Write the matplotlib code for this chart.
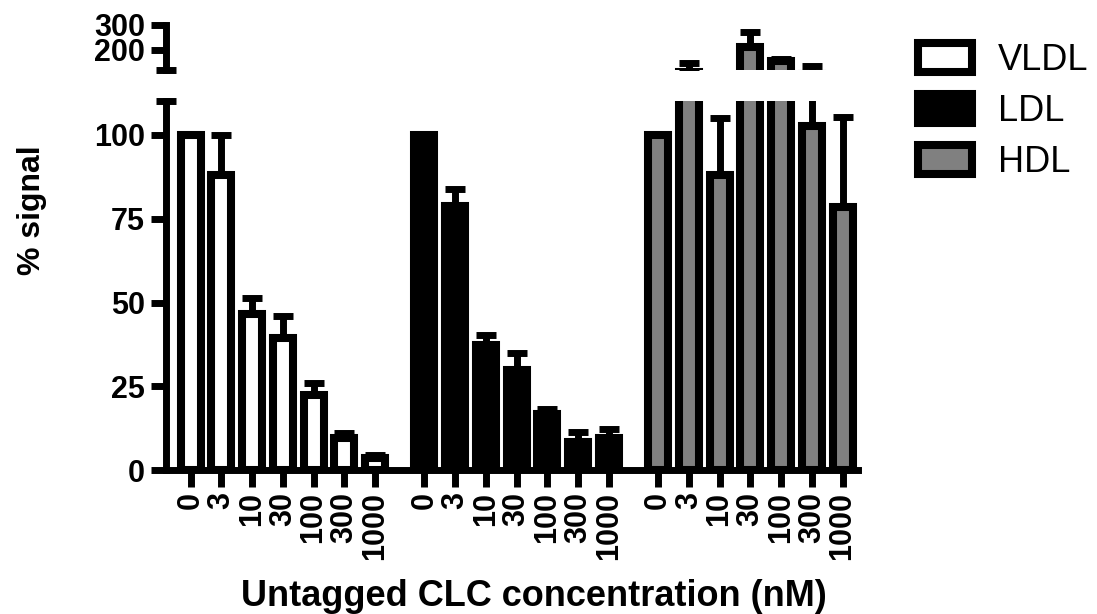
import numpy as np
import matplotlib
matplotlib.use('Agg')
import matplotlib.pyplot as plt

# values (% signal, mean and upper SEM)
conc_labels = ['0', '3', '10', '30', '100', '300', '1000']
vldl_mean = [100, 88, 46.5, 39.5, 22.5, 9.5, 3.5]
vldl_err = [0, 12, 4.8, 6.5, 3.5, 1.6, 0.9]
ldl_mean = [100, 78.7, 37.3, 30, 16.7, 8.4, 9.5]
ldl_err = [0, 5.3, 3.1, 4.9, 1.4, 2.8, 2.7]
hdl_mean = [100, 112, 88, 212, 156, 102.6, 78.4]
hdl_err = [0, 34, 17, 58, 6, 35, 27]

series = [
    ('VLDL', vldl_mean, vldl_err, 'white'),
    ('LDL', ldl_mean, ldl_err, 'black'),
    ('HDL', hdl_mean, hdl_err, '#808080'),
]

plt.rcParams['font.family'] = ['Liberation Sans', 'DejaVu Sans']

group_step = 7.6
bar_w = 0.65
edge_lw = 5.8

fig = plt.figure(figsize=(10.97, 6.14), dpi=100)
ax_lo = fig.add_axes([0.1513, 0.2345, 0.6308, 0.6002])
ax_hi = fig.add_axes([0.1513, 0.886, 0.6308, 0.0733])

n = len(conc_labels)
all_x = []
all_lab = []
handles = []
for g, (name, mean, err, color) in enumerate(series):
    x = g * group_step + np.arange(n)
    mean = np.array(mean, dtype=float)
    err = np.array(err, dtype=float)
    for ax in (ax_lo, ax_hi):
        b = ax.bar(x, mean, width=bar_w, color=color, edgecolor='black',
                   linewidth=edge_lw, zorder=3)
        has_err = err > 0
        ax.errorbar(x[has_err], mean[has_err],
                    yerr=[np.zeros(has_err.sum()), err[has_err]],
                    fmt='none', ecolor='black', elinewidth=5, capsize=7,
                    capthick=5, zorder=2)
    handles.append(b)
    all_x.extend(x)
    all_lab.extend(conc_labels)

xlim = (-0.8, 2 * group_step + n - 1 + 0.5)

# lower segment
ax_lo.set_xlim(*xlim)
ax_lo.set_ylim(0, 110)
ax_lo.set_yticks([0, 25, 50, 75, 100])
ax_lo.set_xticks(all_x)
ax_lo.set_xticklabels(all_lab, rotation=90)
for s in ['top', 'right']:
    ax_lo.spines[s].set_visible(False)
for s in ['left', 'bottom']:
    ax_lo.spines[s].set_linewidth(5)
ax_lo.tick_params(axis='y', direction='out', length=11, width=5, labelsize=22, pad=4)
ax_lo.tick_params(axis='x', direction='out', length=12, width=5, labelsize=22, pad=4)
for lab in ax_lo.get_xticklabels() + ax_lo.get_yticklabels():
    lab.set_fontweight('bold')

# upper segment
ax_hi.set_xlim(*xlim)
ax_hi.set_ylim(120, 300)
ax_hi.set_yticks([200, 300])
ax_hi.set_xticks([])
for s in ['top', 'right', 'bottom']:
    ax_hi.spines[s].set_visible(False)
ax_hi.spines['left'].set_linewidth(5)
ax_hi.tick_params(axis='y', direction='out', length=11, width=5, labelsize=22, pad=4)
for lab in ax_hi.get_yticklabels():
    lab.set_fontweight('bold')
ax_hi.patch.set_alpha(0)

# axis break caps
ax_lo.plot([0], [1], marker='_', ms=15, mew=5, color='black',
           transform=ax_lo.transAxes, clip_on=False, zorder=5)
ax_hi.plot([0], [0], marker='_', ms=15, mew=5, color='black',
           transform=ax_hi.transAxes, clip_on=False, zorder=5)

fig.text(0.029, 0.658, '% signal', rotation=90, fontsize=23, fontweight='bold',
         ha='center', va='center')
fig.text(534 / 1097, 0.029, 'Untagged CLC concentration (nM)', fontsize=26,
         fontweight='bold', ha='center', va='center')

fig.legend(handles, [s[0] for s in series], loc='upper left',
           bbox_to_anchor=(918 / 1097, 1 - 43 / 614), frameon=False,
           fontsize=26, handlelength=1.5, handleheight=0.84,
           handletextpad=0.72, labelspacing=0.44, borderpad=0, borderaxespad=0)

plt.savefig('out.png', dpi=100)
plt.close()
